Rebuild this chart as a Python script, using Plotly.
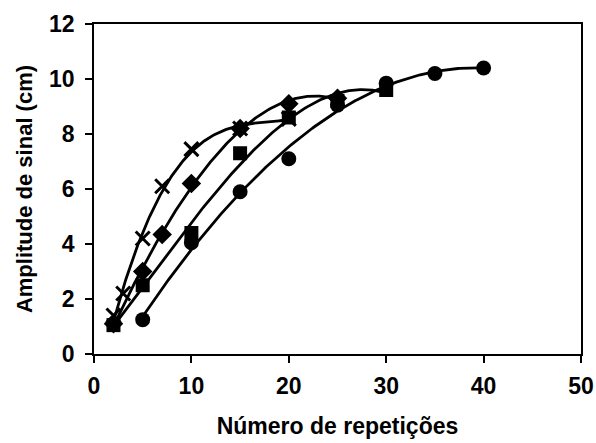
import numpy as np
import plotly.graph_objects as go

# Measured points for each series
cross_x = [2, 3, 5, 7, 10, 15, 20]
cross_y = [1.4, 2.2, 4.2, 6.1, 7.45, 8.2, 8.55]

diamond_x = [2, 5, 7, 10, 15, 20, 25]
diamond_y = [1.1, 3.0, 4.35, 6.2, 8.2, 9.1, 9.3]

square_x = [2, 5, 10, 15, 20, 25, 30]
square_y = [1.05, 2.5, 4.4, 7.3, 8.6, 9.2, 9.6]

circle_x = [5, 10, 15, 20, 25, 30, 35, 40]
circle_y = [1.25, 4.05, 5.9, 7.1, 9.05, 9.85, 10.2, 10.4]

x_ticks = [0, 10, 20, 30, 40, 50]
y_ticks = [0, 2, 4, 6, 8, 10, 12]

FONT = "Liberation Sans, Arial, sans-serif"

# (x, y, marker symbol, marker size, trend-line polynomial order)
series = [
    (circle_x, circle_y, "circle", 15, 3),
    (diamond_x, diamond_y, "diamond", 15, 3),
    (cross_x, cross_y, "x-thin", 14, 3),
    (square_x, square_y, "square", 14, 3),
]

fig = go.Figure()

# Polynomial trend line for each series, over its own x range
for xs, ys, sym, size, order in series:
    coef = np.polyfit(xs, ys, order)
    xx = np.linspace(min(xs), max(xs), 200)
    fig.add_trace(go.Scatter(
        x=xx, y=np.polyval(coef, xx), mode="lines",
        line=dict(color="black", width=2.8), hoverinfo="skip",
        showlegend=False,
    ))

for xs, ys, sym, size, order in series:
    marker = dict(symbol=sym, size=size, color="black")
    if sym == "x-thin":
        marker["line"] = dict(color="black", width=3)
    fig.add_trace(go.Scatter(
        x=xs, y=ys, mode="markers", marker=marker, showlegend=False,
    ))

axis_common = dict(
    showgrid=False, zeroline=False, showline=True, linecolor="black",
    linewidth=1.5, mirror=True, ticks="outside", ticklen=7,
    tickcolor="black", tickwidth=1.5, automargin=False,
    tickfont=dict(family=FONT, size=23, color="black"),
)

fig.update_layout(
    width=596, height=443,
    margin=dict(l=94, r=15, t=24, b=89),
    paper_bgcolor="white", plot_bgcolor="white",
    font=dict(family=FONT, color="black"),
    xaxis=dict(
        range=[0, 50], tickvals=x_ticks,
        ticktext=[f"<b>{v}</b>" for v in x_ticks], ticklabelstandoff=4,
        **axis_common,
        title=dict(text="<b>Número de repetições</b>", standoff=20,
                   font=dict(family=FONT, size=23, color="black")),
    ),
    yaxis=dict(
        range=[0, 12], tickvals=y_ticks,
        ticktext=[f"<b>{v}</b>" for v in y_ticks], ticklabelstandoff=6,
        **axis_common,
        title=dict(text="<b>Amplitude de sinal (cm)</b>", standoff=10,
                   font=dict(family=FONT, size=22, color="black")),
    ),
)

fig.write_html("out.html")
